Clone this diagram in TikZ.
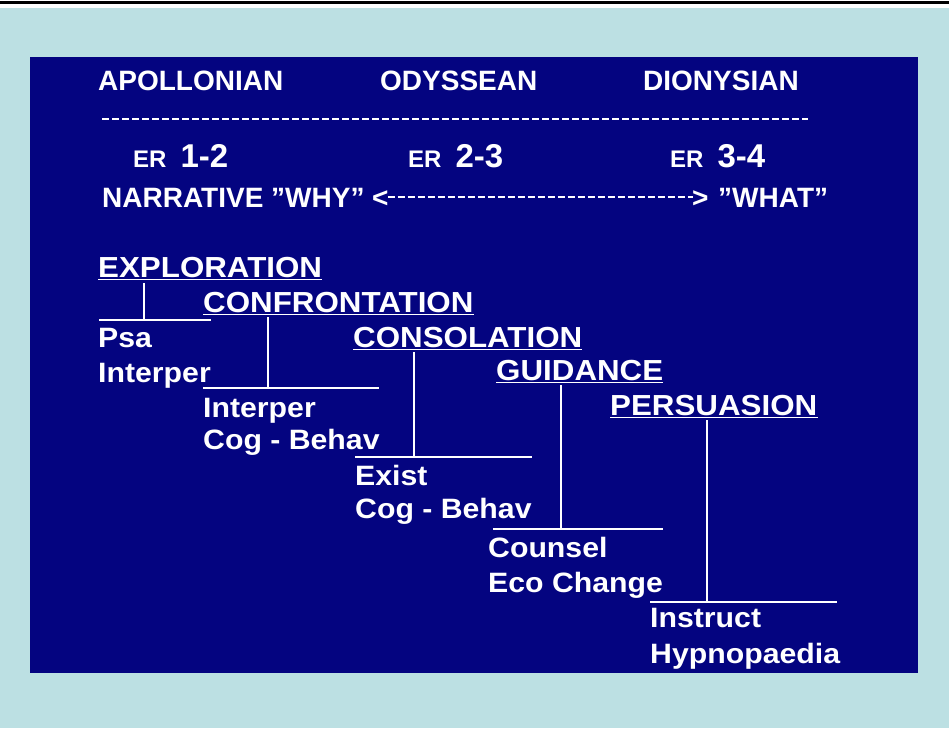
\documentclass[tikz,border=0pt]{standalone}
\usepackage{fontspec}
\setmainfont{Liberation Sans}
\newfontfamily\slidefont[FakeStretch=1.08]{Liberation Sans}
\usetikzlibrary{positioning,arrows.meta}
\definecolor{slideblue}{RGB}{4,4,128}
\definecolor{pagecyan}{RGB}{188,224,227}
\newcommand{\dq}{\symbol{"22}}

\begin{document}
\begin{tikzpicture}[x=1pt,y=-1pt,
    toptext/.style={
      text=white,
      inner sep=0pt,
      anchor=base west,
      font=\fontsize{28}{30}\selectfont\bfseries
    },
    stage/.style={
      text=white,
      inner sep=0pt,
      anchor=base west,
      font=\slidefont\fontsize{29}{31}\selectfont\bfseries
    },
    school/.style={
      text=white,
      inner sep=0pt,
      anchor=base west,
      font=\slidefont\fontsize{28}{30}\selectfont\bfseries
    },
    wline/.style={draw=white, line width=1.6pt},
    dashline/.style={draw=white, line width=2.8pt, dash pattern=on 7pt off 3pt}
  ]

    % Page and slide
    \useasboundingbox (0,0) rectangle (949,728);
    \fill[white] (0,0) rectangle (949,728);
    \fill[black] (0,1) rectangle (949,4);
    \fill[pagecyan] (0,8) rectangle (949,728);
    \fill[slideblue] (30,57) rectangle (918,673);

    % Top row
    \node[toptext] (apollo) at (98,90) {APOLLONIAN};
    \node[toptext] (odys) at (380,90) {ODYSSEAN};
    \node[toptext] (diony) at (643,90) {DIONYSIAN};
    \draw[dashline] (102,119) -- (808,119);

    \node[toptext] (er1) at (133,167)
      {{\fontsize{24}{26}\selectfont ER}\hspace{14pt}{\fontsize{33}{35}\selectfont 1-2}};
    \node[toptext] (er2) at (408,167)
      {{\fontsize{24}{26}\selectfont ER}\hspace{14pt}{\fontsize{33}{35}\selectfont 2-3}};
    \node[toptext] (er3) at (670,167)
      {{\fontsize{24}{26}\selectfont ER}\hspace{14pt}{\fontsize{33}{35}\selectfont 3-4}};

    \node[toptext] (why) at (102,207) {NARRATIVE \dq WHY\dq};
    \node[toptext] (lt) at (372,207) {<};
    \node[toptext] (gt) at (692,207) {>};
    \node[toptext] (what) at (718,207) {\dq WHAT\dq};
    \draw[dashline] ([shift={(-1,-10)}]lt.base east) -- ([shift={(1,-10)}]gt.base west);

    % Stages
    \node[stage] (explo) at (98,277) {EXPLORATION};
    \node[stage] (confr) at (203,312) {CONFRONTATION};
    \node[stage] (conso) at (353,347) {CONSOLATION};
    \node[stage] (guide) at (496,380) {GUIDANCE};
    \node[stage] (persu) at (610,415) {PERSUASION};

    \foreach \s in {explo,confr,conso,guide,persu}
      \draw[wline] ([yshift=-2.5pt]\s.base west) -- ([yshift=-2.5pt]\s.base east);

    % Stems and bars
    \coordinate (s1) at (144,283);
    \coordinate (b1l) at (99,320);
    \coordinate (b1r) at (211,320);
    \coordinate (s2) at (268,317);
    \coordinate (b2l) at (203,388);
    \coordinate (b2r) at (379,388);
    \coordinate (s3) at (414,352);
    \coordinate (b3l) at (355,457);
    \coordinate (b3r) at (532,457);
    \coordinate (s4) at (561,385);
    \coordinate (b4l) at (493,529);
    \coordinate (b4r) at (663,529);
    \coordinate (s5) at (707,420);
    \coordinate (b5l) at (650,602);
    \coordinate (b5r) at (837,602);

    \foreach \i in {1,...,5} {
      \draw[wline] (s\i) -- (s\i |- b\i l);
      \draw[wline] (b\i l) -- (b\i r);
    }

    % Schools
    \node[school] (psa) at (98,347) {Psa};
    \node[school] (interA) at (98,382) {Interper};
    \node[school] (interB) at (203,417) {Interper};
    \node[school] (cogA) at (203,449) {Cog - Behav};
    \node[school] (exist) at (355,485) {Exist};
    \node[school] (cogB) at (355,518) {Cog - Behav};
    \node[school] (counsel) at (488,557) {Counsel};
    \node[school] (eco) at (488,592) {Eco Change};
    \node[school] (instruct) at (650,627) {Instruct};
    \node[school] (hypno) at (650,663) {Hypnopaedia};

  \end{tikzpicture}
\end{document}
